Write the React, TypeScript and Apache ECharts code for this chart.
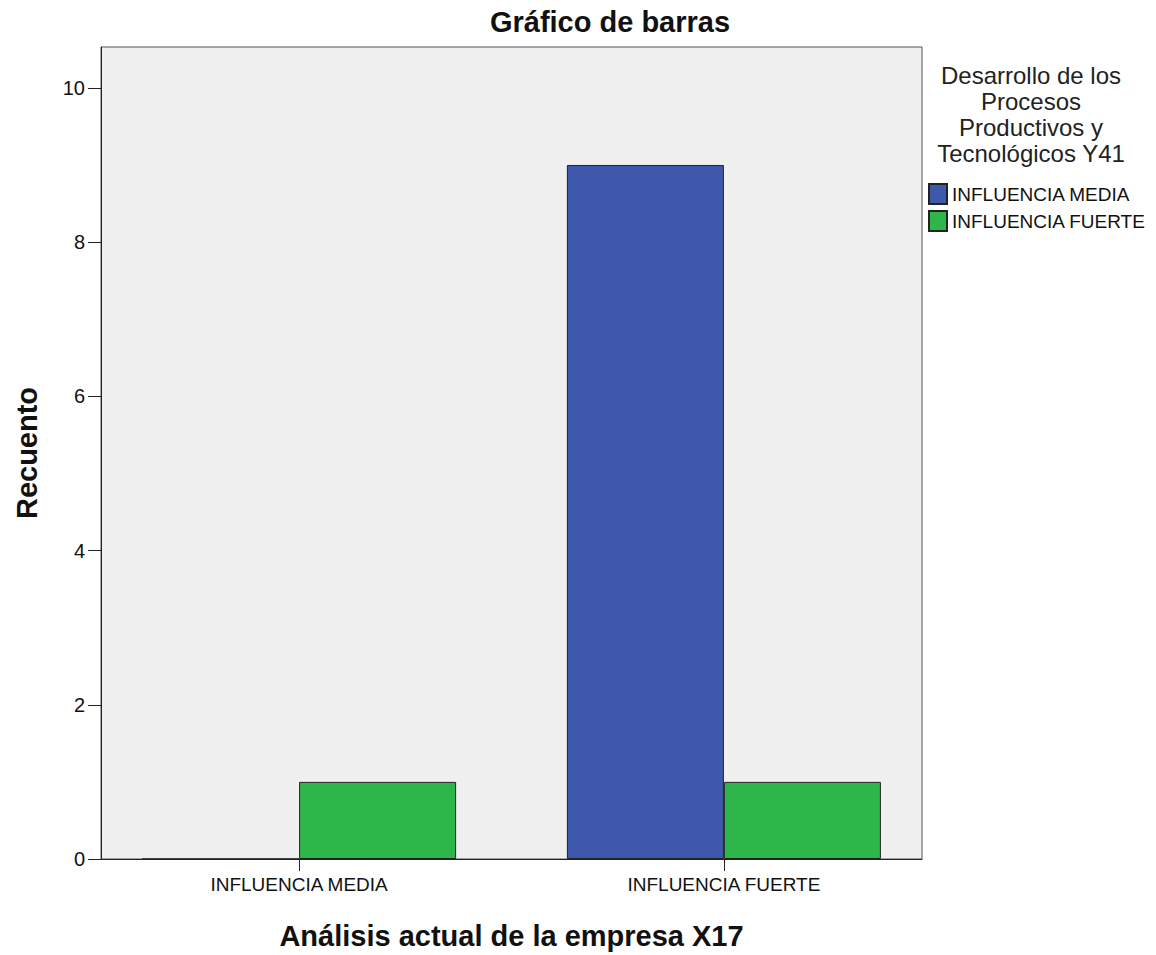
import React, { useEffect, useRef } from "react";
import * as echarts from "echarts";

const categories = ["INFLUENCIA MEDIA", "INFLUENCIA FUERTE"];
const seriesNames = ["INFLUENCIA MEDIA", "INFLUENCIA FUERTE"];
const mediaCounts = [0, 9];
const fuerteCounts = [1, 1];
const yTickValues = [0, 2, 4, 6, 8, 10];
const categoryPositions = [0, 1];

const FONT = "'Liberation Sans', Arial, sans-serif";

export default function App() {
  const ref = useRef<HTMLDivElement>(null);
  useEffect(() => {
    document.body.style.margin = "0";
    if (!ref.current) return;
    const chart = echarts.init(ref.current, null, { renderer: "svg" });
    const option: any = {
      animation: false,
      backgroundColor: "#ffffff",
      textStyle: { fontFamily: FONT },
      title: {
        text: "Gráfico de barras",
        left: 610,
        top: 7,
        textAlign: "center",
        padding: 0,
        textStyle: { fontFamily: FONT, fontSize: 29, fontWeight: "bold", color: "#111" },
      },
      grid: {
        left: 101,
        top: 47,
        width: 821,
        height: 814,
        show: true,
        backgroundColor: "#f0f0f0",
        borderColor: "#555",
        borderWidth: 1,
      },
      legend: {
        orient: "vertical",
        left: 928,
        top: 183,
        itemWidth: 18,
        itemHeight: 20,
        itemGap: 5,
        icon: "rect",
        padding: 0,
        data: seriesNames,
        textStyle: { fontFamily: FONT, fontSize: 19, color: "#111" },
      },
      xAxis: {
        type: "value",
        min: -0.4664,
        max: 1.4664,
        name: "Análisis actual de la empresa X17",
        nameLocation: "middle",
        nameGap: 62,
        nameTextStyle: { fontFamily: FONT, fontSize: 29, fontWeight: "bold", color: "#111" },
        splitLine: { show: false },
        axisLine: { show: true, onZero: false, lineStyle: { color: "#222", width: 1 } },
        axisTick: {
          show: true,
          length: 12,
          customValues: categoryPositions,
          lineStyle: { color: "#222" },
        },
        axisLabel: {
          show: true,
          customValues: categoryPositions,
          margin: 16,
          fontFamily: FONT,
          fontSize: 19,
          color: "#111",
          formatter: (v: number) => {
            const i = Math.round(v);
            return Math.abs(v - i) < 1e-6 && categories[i] ? categories[i] : "";
          },
        },
      },
      yAxis: {
        type: "value",
        min: 0,
        max: 10.53,
        name: "Recuento",
        nameLocation: "middle",
        nameRotate: 90,
        nameGap: 60,
        nameTextStyle: { fontFamily: FONT, fontSize: 29, fontWeight: "bold", color: "#111" },
        splitLine: { show: false },
        axisLine: { show: true, onZero: false, lineStyle: { color: "#222", width: 1 } },
        axisTick: {
          show: true,
          length: 13,
          customValues: yTickValues,
          lineStyle: { color: "#222" },
        },
        axisLabel: {
          show: true,
          customValues: yTickValues,
          margin: 16,
          fontFamily: FONT,
          fontSize: 20,
          color: "#111",
        },
      },
      graphic: [
        {
          type: "text",
          x: 1031,
          y: 62,
          style: {
            text: "Desarrollo de los\nProcesos\nProductivos y\nTecnológicos Y41",
            font: `24px ${FONT}`,
            textAlign: "center",
            textVerticalAlign: "top",
            lineHeight: 26,
            fill: "#222",
          },
        },
      ],
      series: [
        {
          name: seriesNames[0],
          type: "bar",
          barWidth: 157,
          barGap: "0%",
          data: mediaCounts.map((v, i) => [categoryPositions[i], v]),
          itemStyle: { color: "#3e58ab", borderColor: "#222", borderWidth: 1 },
        },
        {
          name: seriesNames[1],
          type: "bar",
          barWidth: 157,
          barGap: "0%",
          data: fuerteCounts.map((v, i) => [categoryPositions[i], v]),
          itemStyle: { color: "#2db74a", borderColor: "#222", borderWidth: 1 },
        },
      ],
    };
    chart.setOption(option);
    return () => chart.dispose();
  }, []);
  return <div ref={ref} style={{ width: 1156, height: 955 }} />;
}
